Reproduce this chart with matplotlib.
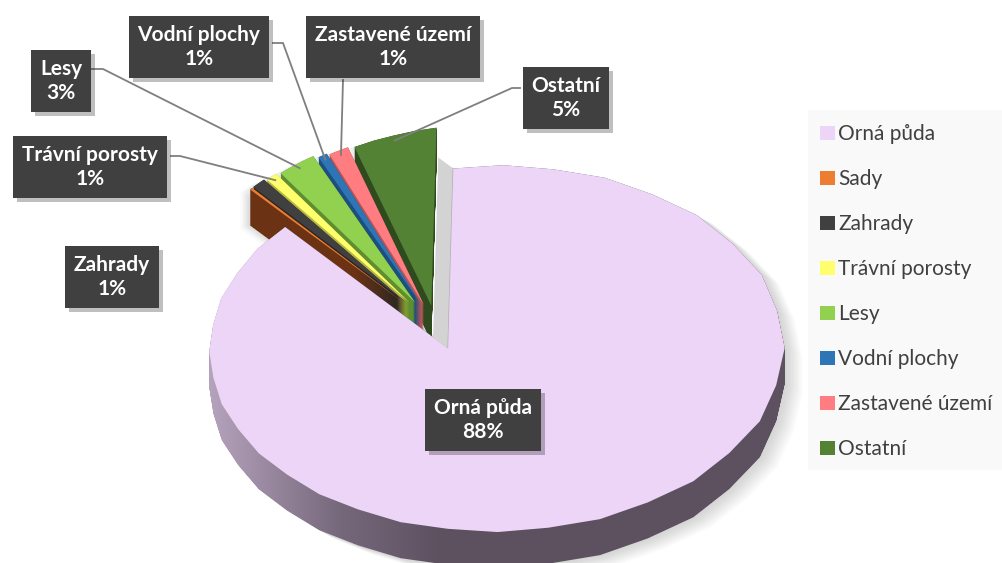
import numpy as np
import matplotlib
matplotlib.use("Agg")
import matplotlib.pyplot as plt
from matplotlib.path import Path
from matplotlib.patches import PathPatch, Polygon, Rectangle, Patch
import matplotlib.patheffects as pe

categories = ["Orná půda", "Sady", "Zahrady", "Trávní porosty", "Lesy",
              "Vodní plochy", "Zastavené území", "Ostatní"]
shares = [88.4, 0.2, 1.0, 0.8, 2.6, 0.6, 1.3, 5.1]

top_colors = ["#EDD5F7", "#ED7D31", "#404040", "#FFFF6E",
              "#92D050", "#2E75B6", "#FF7C80", "#548235"]
side_colors = ["#5D5160", "#6B3314", "#262626", "#B5B540",
               "#5E8E2E", "#1C4E7E", "#B35457", "#2E4A1E"]
explode = [0.13, 0.18, 0.18, 0.17, 0.16, 0.14, 0.13, 0.12]

plt.rcParams["font.family"] = ["Lato", "DejaVu Sans"]

fig = plt.figure(figsize=(10.02, 5.63), dpi=100)
ax = fig.add_axes([0, 0, 1, 1])
ax.set_xlim(0, 1002)
ax.set_ylim(563, 0)
ax.axis("off")

# the pie itself, laid out by matplotlib, then projected
pax = fig.add_axes([0, 0, 0.1, 0.1])
wedges, _ = pax.pie(shares, startangle=90, counterclock=False, explode=explode)
pax.set_visible(False)

# perspective: pie coords -> pixel coords (y down), fitted on the big slice
off = np.array(wedges[0].center)
src = np.array([[0, 0], [0, 1], [0, -1], [-0.685, 0.729], [0.685, -0.729],
                [1, 0], [-1, 0]]) + off
dst = np.array([[430, 319], [430, 188], [440, 517], [307, 197], [662, 500],
                [795, 365], [206, 380]])


def fit_h(src, dst):
    rows = []
    for (x, y), (u, v) in zip(src, dst):
        rows.append([x, y, 1, 0, 0, 0, -u * x, -u * y, -u])
        rows.append([0, 0, 0, x, y, 1, -v * x, -v * y, -v])
    _, _, vt = np.linalg.svd(np.array(rows, float))
    return vt[-1].reshape(3, 3)


H = fit_h(src, dst)


def proj(pts):
    pts = np.asarray(pts, float)
    p = np.c_[pts, np.ones(len(pts))] @ H.T
    return p[:, :2] / p[:, 2:]


depth = 36
tops = [proj(w.get_path().to_polygons()[0]) for w in wedges]


def extrude(poly):
    return Path.make_compound_path(*[Path(poly + [0, d], closed=True)
                                     for d in np.arange(0, depth + 0.1, 1.0)])


# soft shadow
for k in range(1, 12):
    sh = extrude(tops[0] + [k * 1.6, k * 0.9])
    ax.add_patch(PathPatch(sh, facecolor="#808080", edgecolor="none", alpha=0.03, zorder=1))
for i in range(1, len(tops)):
    for k in range(1, 8):
        ax.add_patch(PathPatch(extrude(tops[i] + [-k * 1.5, k * 0.5]), facecolor="#808080",
                               edgecolor="none", alpha=0.025, zorder=1))

# sides of small slices, front-most (Sady) drawn last
for i in range(len(tops) - 1, 0, -1):
    ax.add_patch(PathPatch(extrude(tops[i]), facecolor=side_colors[i], edgecolor="none", zorder=2))
for i in range(1, len(tops)):
    ax.add_patch(Polygon(tops[i], closed=True, facecolor=top_colors[i], edgecolor="none", zorder=4))

# grey cut face at the vertical edge of the big slice
tip, rim = proj([off, off + [0, 1]])
v = np.array([-15, -11])
ax.add_patch(Polygon([rim, tip, tip + v, rim + v], facecolor="#D3D3D3", edgecolor="none", zorder=4.5))
ax.plot([tip[0], rim[0]], [tip[1], rim[1]], color="#B0B0B0", lw=1, zorder=4.6)

# side of the big slice with a gradient
side = PathPatch(extrude(tops[0]), facecolor="none", edgecolor="none", zorder=3)
ax.add_patch(side)
xs = np.linspace(0, 1002, 400)
stops_x = [200, 340, 440, 1002]
cols = np.array([[186, 167, 194], [118, 104, 123], [93, 81, 96], [93, 81, 96]]) / 255
grad = np.stack([np.interp(xs, stops_x, cols[:, c]) for c in range(3)], axis=-1)[None, :, :]
im = ax.imshow(grad, extent=(0, 1002, 563, 0), aspect="auto", zorder=3, interpolation="bilinear")
im.set_clip_path(side)
ax.set_xlim(0, 1002)
ax.set_ylim(563, 0)

ax.add_patch(Polygon(tops[0], closed=True, facecolor=top_colors[0], edgecolor="none", zorder=5))

# data labels
label_pos = {0: (483, 420), 2: (112, 277), 3: (90, 167), 4: (61, 81),
             5: (199, 47), 6: (393, 47), 7: (566, 98)}
leaders = {3: [(171, 156), (180, 156)], 4: [(92, 69), (103, 69)],
           5: [(273, 43), (283, 43)], 6: [(343, 80), (343, 80)],
           7: [(520, 88), (512, 88)]}
for i, (x, y) in label_pos.items():
    t = ax.text(x, y, f"{categories[i]}\n{shares[i]:.0f}%", ha="center", va="center",
                color="white", fontsize=15, fontweight="bold", linespacing=1.3, zorder=8,
                bbox=dict(boxstyle="square,pad=0.42", facecolor="#404040", edgecolor="none"))
    t.get_bbox_patch().set_path_effects([
        pe.SimplePatchShadow(offset=(3, -3), shadow_rgbFace="#000000", alpha=0.25), pe.Normal()])

for i, pts in leaders.items():
    w = wedges[i]
    mid = np.deg2rad((w.theta1 + w.theta2) / 2)
    end = proj([[w.center[0] + 0.97 * np.cos(mid), w.center[1] + 0.97 * np.sin(mid)]])[0]
    line = np.array(pts + [tuple(end)])
    ax.plot(line[:, 0], line[:, 1], color="#7F7F7F", lw=1.3, zorder=7)

# legend
ax.add_patch(Rectangle((808, 110), 200, 360, facecolor="#F9F9F9", edgecolor="none", zorder=1))
handles = [Patch(facecolor=c, edgecolor="none") for c in top_colors]
ax.legend(handles, categories, loc="upper left", bbox_to_anchor=(812 / 1002, 1 - 116 / 563),
          frameon=False, fontsize=15, handlelength=0.7, handleheight=0.7,
          handletextpad=0.15, labelspacing=1.2, labelcolor="#404040", borderaxespad=0)

fig.savefig("out.png", dpi=100)
